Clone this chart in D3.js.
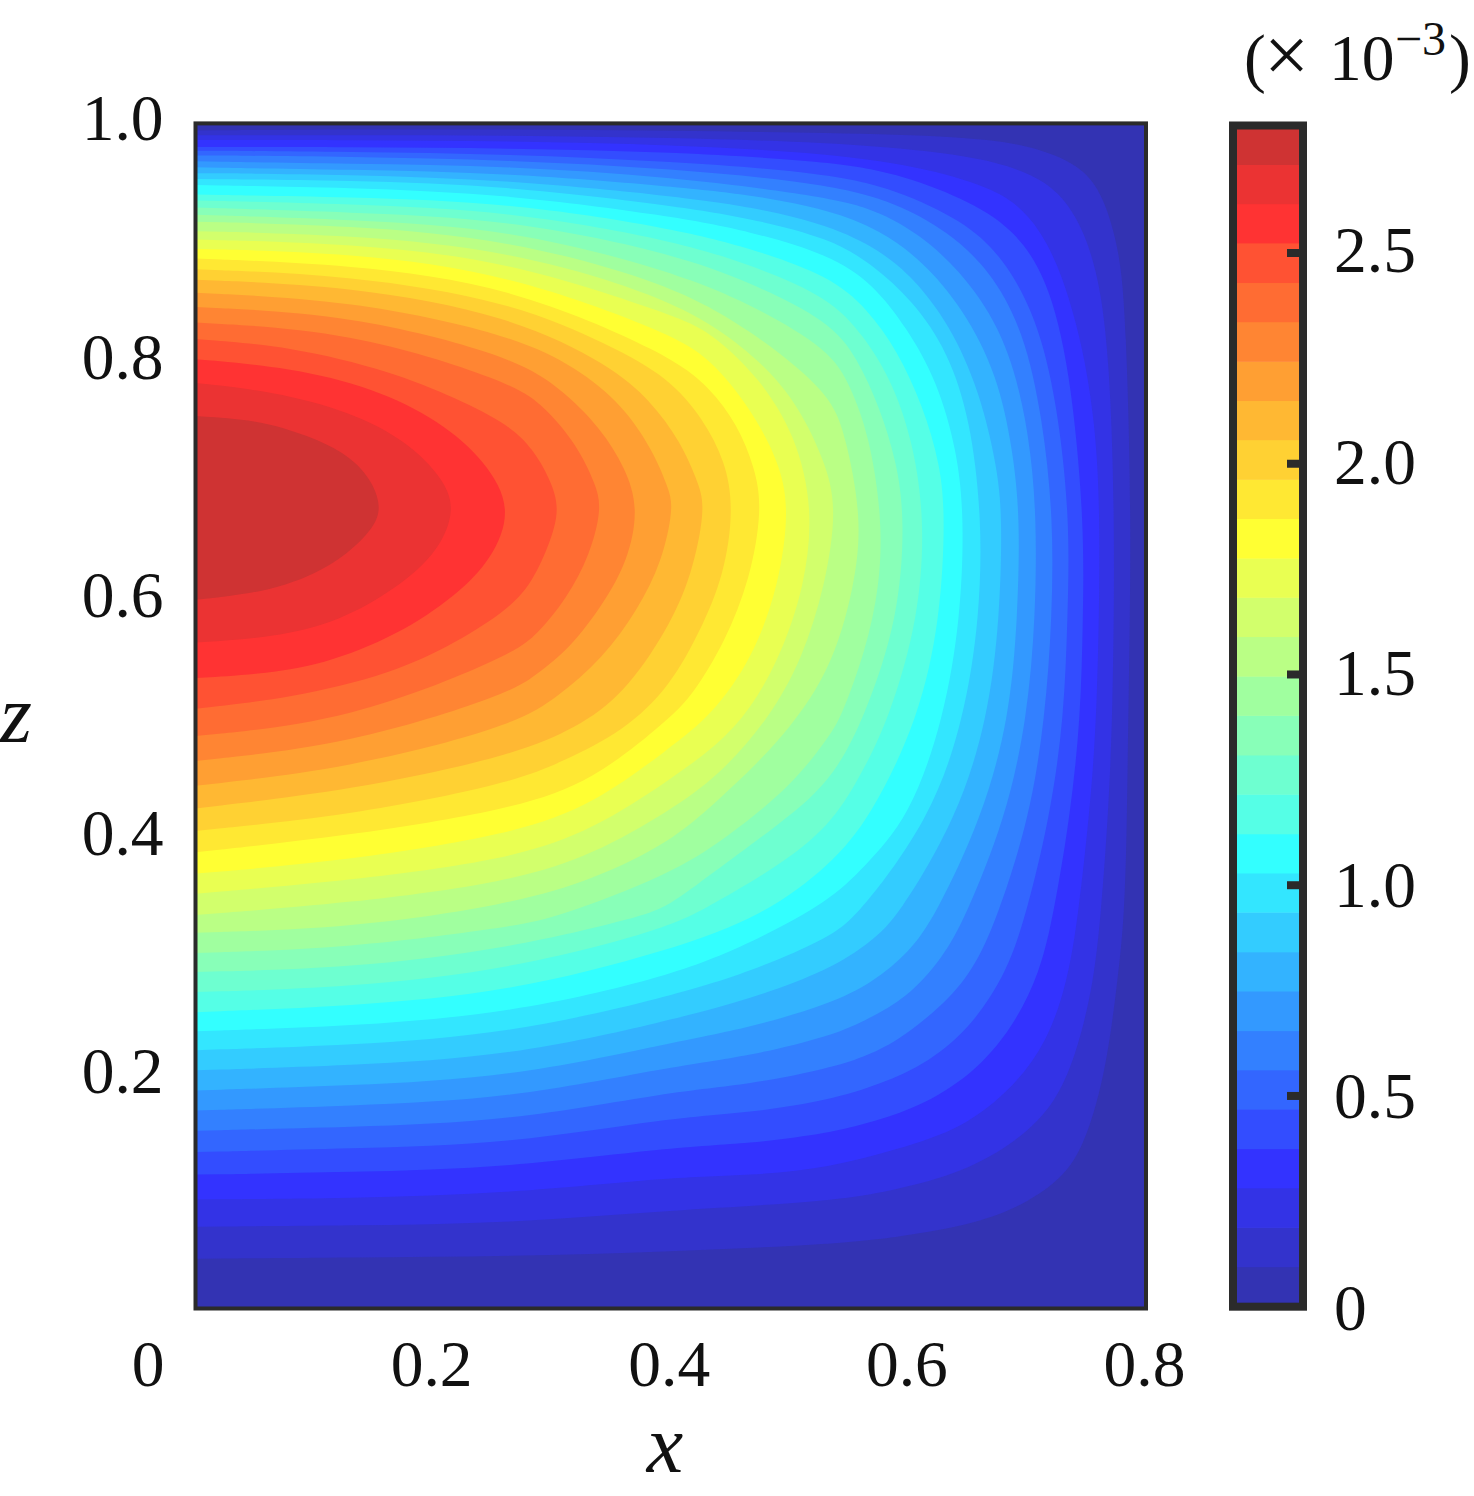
<!DOCTYPE html>
<html><head><meta charset="utf-8">
<style>html,body{margin:0;padding:0;background:#fff}svg{display:block}text{font-family:"Liberation Serif","Times New Roman",serif;fill:#111}</style>
<script src="https://cdn.jsdelivr.net/npm/d3@7/dist/d3.min.js"></script>
</head><body><svg id="c" width="1474" height="1496"></svg>
<script>
// level boundaries (x 10^-3)
const levels=[0,.095,.188,.282,.375,.469,.562,.655,.749,.842,.936,1.029,1.122,1.216,1.309,1.403,1.496,1.59,1.683,1.776,1.87,1.963,2.057,2.15,2.243,2.337,2.43,2.524,2.617,2.71,2.8];
const bandColors=["#3333B3","#3333CC","#3333E6","#3333FF","#334DFF","#3366FF","#3380FF","#3399FF","#33B3FF","#33CCFF","#33E6FF","#33FFFF","#55FFE6","#6EFFD0","#88FFB8","#A0FF9F","#BAFF85","#D2FF6C","#E9FF52","#FFFF33","#FFE833","#FFD133","#FFB833","#FF9F33","#FF8533","#FF6C33","#FF5233","#FF3333","#EB3333","#CF3333"];
const xTicks=[0,.2,.4,.6,.8];
const zTicks=[.2,.4,.6,.8,1];
const cbTicks=[0,.5,1,1.5,2,2.5];
// iso-contours [x,z], one per level boundary
const contour01=[[0,.994],[.13,.995],[.265,.995],[.399,.994],[.534,.992],[.646,.989],[.702,.982],[.745,.965],[.764,.94],[.778,.892],[.783,.836],[.788,.667],[.785,.498],[.784,.414],[.782,.332],[.776,.276],[.767,.206],[.753,.152],[.736,.115],[.702,.09],[.66,.072],[.591,.06],[.534,.054],[.399,.048],[.265,.044],[.13,.043],[0,.042]];
const contour02=[[0,.99],[.13,.99],[.265,.99],[.399,.988],[.534,.984],[.618,.977],[.675,.968],[.717,.952],[.742,.923],[.759,.878],[.769,.808],[.774,.667],[.772,.498],[.768,.414],[.762,.332],[.756,.276],[.743,.22],[.725,.174],[.692,.141],[.646,.115],[.59,.1],[.534,.09],[.399,.083],[.265,.072],[.13,.07],[0,.069]];
const contour03=[[0,.986],[.13,.986],[.265,.985],[.399,.982],[.534,.975],[.618,.962],[.675,.944],[.702,.923],[.725,.886],[.745,.821],[.757,.751],[.762,.667],[.759,.498],[.752,.414],[.743,.332],[.734,.276],[.717,.225],[.688,.186],[.646,.152],[.59,.134],[.534,.119],[.467,.112],[.399,.111],[.265,.097],[.13,.093],[0,.092]];
const contour04=[[0,.98],[.13,.98],[.265,.979],[.399,.976],[.534,.968],[.59,.958],[.646,.937],[.688,.912],[.717,.87],[.736,.794],[.748,.667],[.747,.583],[.745,.498],[.736,.414],[.722,.332],[.711,.284],[.688,.237],[.654,.197],[.607,.169],[.568,.157],[.534,.148],[.467,.139],[.399,.136],[.265,.119],[.13,.115],[0,.113]];
const contour05=[[0,.977],[.13,.976],[.265,.974],[.399,.968],[.534,.958],[.59,.944],[.646,.918],[.68,.887],[.708,.836],[.725,.766],[.736,.667],[.734,.583],[.731,.498],[.719,.414],[.699,.332],[.683,.284],[.654,.239],[.618,.208],[.576,.189],[.534,.176],[.467,.165],[.399,.161],[.265,.139],[.13,.135],[0,.132]];
const contour06=[[0,.973],[.13,.972],[.265,.969],[.399,.962],[.534,.949],[.59,.933],[.633,.909],[.669,.876],[.697,.825],[.713,.751],[.722,.667],[.721,.583],[.715,.498],[.702,.414],[.675,.33],[.654,.284],[.627,.254],[.59,.225],[.562,.212],[.534,.203],[.467,.189],[.399,.183],[.265,.158],[.13,.153],[0,.15]];
const contour07=[[0,.968],[.13,.966],[.265,.964],[.399,.955],[.534,.938],[.576,.926],[.618,.901],[.658,.859],[.686,.808],[.702,.737],[.708,.667],[.707,.583],[.7,.498],[.682,.414],[.648,.33],[.629,.296],[.599,.262],[.562,.242],[.534,.23],[.467,.213],[.399,.204],[.265,.177],[.13,.171],[0,.167]];
const contour08=[[0,.963],[.13,.961],[.265,.958],[.399,.947],[.467,.94],[.534,.927],[.576,.91],[.612,.884],[.646,.844],[.675,.788],[.688,.724],[.694,.667],[.692,.583],[.685,.498],[.662,.414],[.622,.33],[.601,.301],[.57,.275],[.534,.257],[.467,.237],[.399,.224],[.265,.195],[.13,.188],[0,.184]];
const contour09=[[0,.958],[.13,.957],[.265,.952],[.399,.939],[.467,.93],[.534,.914],[.576,.893],[.604,.87],[.635,.83],[.66,.774],[.675,.709],[.679,.667],[.677,.583],[.667,.498],[.641,.414],[.591,.33],[.568,.309],[.534,.286],[.467,.261],[.399,.243],[.265,.213],[.13,.205],[0,.201]];
const contour10=[[0,.953],[.13,.952],[.265,.947],[.399,.931],[.467,.92],[.534,.903],[.57,.881],[.604,.85],[.633,.808],[.652,.751],[.662,.667],[.66,.583],[.647,.498],[.619,.414],[.558,.332],[.534,.313],[.467,.284],[.399,.263],[.265,.232],[.13,.222],[0,.218]];
const contour11=[[0,.948],[.13,.946],[.265,.94],[.399,.922],[.467,.909],[.534,.889],[.57,.865],[.599,.827],[.624,.783],[.641,.724],[.647,.667],[.644,.583],[.63,.498],[.601,.414],[.562,.372],[.534,.344],[.467,.308],[.399,.28],[.265,.249],[.13,.238],[0,.234]];
const contour12=[[0,.94],[.13,.938],[.265,.933],[.399,.912],[.467,.895],[.534,.871],[.565,.844],[.591,.808],[.612,.762],[.627,.712],[.631,.667],[.627,.583],[.609,.498],[.568,.414],[.534,.374],[.479,.332],[.399,.302],[.265,.267],[.13,.255],[0,.25]];
const contour13=[[0,.935],[.13,.932],[.265,.926],[.399,.902],[.467,.881],[.534,.853],[.562,.821],[.585,.785],[.603,.735],[.614,.667],[.609,.583],[.584,.498],[.559,.448],[.534,.407],[.489,.372],[.433,.34],[.399,.321],[.265,.286],[.13,.271],[0,.267]];
const contour14=[[0,.929],[.13,.925],[.265,.919],[.399,.891],[.467,.866],[.534,.833],[.557,.802],[.576,.76],[.59,.715],[.597,.667],[.592,.583],[.563,.498],[.534,.443],[.489,.407],[.433,.366],[.399,.34],[.373,.33],[.265,.304],[.13,.287],[0,.284]];
const contour15=[[0,.923],[.13,.919],[.265,.911],[.399,.876],[.467,.848],[.534,.809],[.551,.779],[.567,.737],[.578,.667],[.576,.61],[.564,.555],[.543,.498],[.534,.484],[.503,.442],[.447,.397],[.399,.366],[.304,.33],[.265,.322],[.13,.304],[0,.3]];
const contour16=[[0,.917],[.13,.914],[.265,.902],[.399,.865],[.467,.826],[.534,.773],[.547,.737],[.561,.667],[.555,.61],[.534,.535],[.489,.475],[.439,.428],[.399,.393],[.335,.362],[.265,.341],[.13,.321],[0,.317]];
const contour17=[[0,.909],[.13,.906],[.265,.893],[.399,.853],[.461,.813],[.503,.771],[.53,.715],[.54,.675],[.53,.61],[.511,.549],[.483,.498],[.441,.45],[.399,.42],[.335,.383],[.265,.36],[.13,.342],[0,.332]];
const contour18=[[0,.902],[.13,.899],[.265,.884],[.399,.839],[.433,.825],[.475,.785],[.505,.737],[.52,.675],[.513,.61],[.491,.546],[.456,.487],[.399,.446],[.335,.404],[.265,.379],[.13,.361],[0,.35]];
const contour19=[[0,.894],[.13,.891],[.265,.873],[.399,.823],[.433,.802],[.467,.76],[.491,.715],[.5,.675],[.491,.61],[.469,.549],[.435,.501],[.399,.473],[.335,.425],[.265,.4],[.13,.378],[0,.367]];
const contour20=[[0,.886],[.13,.881],[.265,.863],[.399,.805],[.433,.777],[.456,.746],[.471,.709],[.477,.675],[.467,.616],[.446,.563],[.418,.517],[.399,.498],[.335,.445],[.265,.421],[.13,.399],[0,.385]];
const contour21=[[0,.877],[.13,.872],[.265,.85],[.349,.813],[.399,.785],[.427,.751],[.446,.715],[.453,.675],[.445,.619],[.425,.572],[.399,.524],[.36,.487],[.31,.462],[.265,.443],[.13,.416],[0,.403]];
const contour22=[[0,.868],[.13,.863],[.265,.838],[.349,.796],[.383,.766],[.408,.732],[.424,.695],[.429,.675],[.418,.619],[.397,.572],[.36,.518],[.321,.49],[.265,.466],[.13,.437],[0,.422]];
const contour23=[[0,.857],[.13,.851],[.265,.822],[.321,.794],[.36,.762],[.385,.724],[.399,.69],[.402,.675],[.393,.631],[.372,.589],[.343,.549],[.304,.515],[.265,.491],[.13,.456],[0,.441]];
const contour24=[[0,.845],[.13,.839],[.265,.804],[.307,.777],[.341,.743],[.362,.709],[.373,.675],[.364,.631],[.343,.594],[.315,.557],[.287,.535],[.265,.519],[.13,.476],[0,.462]];
const contour25=[[0,.832],[.13,.825],[.265,.782],[.293,.762],[.321,.729],[.337,.695],[.342,.675],[.332,.636],[.313,.6],[.287,.568],[.265,.551],[.13,.496],[0,.483]];
const contour26=[[0,.818],[.08,.812],[.164,.791],[.22,.768],[.265,.745],[.284,.725],[.298,.701],[.307,.675],[.298,.645],[.284,.614],[.265,.591],[.22,.562],[.164,.535],[.08,.515],[0,.506]];
const contour27=[[0,.801],[.08,.794],[.149,.777],[.206,.749],[.244,.715],[.267,.675],[.25,.633],[.22,.602],[.17,.568],[.107,.543],[.052,.535],[0,.532]];
const contour28=[[0,.781],[.065,.774],[.13,.757],[.178,.732],[.208,.701],[.219,.675],[.205,.639],[.17,.608],[.122,.58],[.065,.566],[0,.562]];
const contour29=[[0,.753],[.052,.75],[.094,.737],[.13,.72],[.149,.698],[.158,.672],[.143,.65],[.113,.625],[.065,.605],[0,.598]];
const contours=[contour01,contour02,contour03,contour04,contour05,contour06,contour07,contour08,contour09,contour10,contour11,contour12,contour13,contour14,contour15,contour16,contour17,contour18,contour19,contour20,contour21,contour22,contour23,contour24,contour25,contour26,contour27,contour28,contour29];

const svg=d3.select("#c");
const x=d3.scaleLinear().domain([0,.8]).range([195.5,1146]);
const z=d3.scaleLinear().domain([0,1]).range([1308.5,123.4]);
const cb=d3.scaleLinear().domain([0,2.5]).range([1306.7,253]);
const FS=65.5, LABEL=82, DARK="#2b2b2b";

svg.append("clipPath").attr("id","plot").append("rect")
  .attr("x",x(0)).attr("y",z(1)).attr("width",x(.8)-x(0)).attr("height",z(0)-z(1));
const field=svg.append("g").attr("clip-path","url(#plot)");
field.append("rect").attr("x",x(0)).attr("y",z(1)).attr("width",x(.8)-x(0)).attr("height",z(0)-z(1)).attr("fill",bandColors[0]);
const line=d3.line().x(d=>x(d[0])).y(d=>z(d[1])).curve(d3.curveBasis);
field.selectAll("path").data(contours).join("path")
  .attr("d",d=>line(d)+"Z").attr("fill",(d,i)=>bandColors[i+1]);
svg.append("rect").attr("x",x(0)).attr("y",z(1)).attr("width",x(.8)-x(0)).attr("height",z(0)-z(1))
  .attr("fill","none").attr("stroke",DARK).attr("stroke-width",4);

// axes: labels only, no tick marks
const fmt=d=>d===0?"0":d.toFixed(1);
const ax=svg.append("g").attr("transform","translate(0,1386)")
  .call(d3.axisBottom(x).tickValues(xTicks).tickSize(0).tickPadding(0).tickFormat(fmt));
ax.select(".domain").remove();
ax.selectAll("text").attr("y",0).attr("dy",0).attr("dx",d=>d===0?-48:-2)
  .attr("font-size",FS).attr("font-family",null).attr("fill","#111");
const ay=svg.append("g").attr("transform","translate(163.5,0)")
  .call(d3.axisLeft(z).tickValues(zTicks).tickSize(0).tickPadding(0).tickFormat(fmt));
ay.select(".domain").remove();
ay.selectAll("text").attr("x",0).attr("dy",0).attr("y",d=>16.5+(1-d)*6.25)
  .attr("font-size",FS).attr("font-family",null).attr("fill","#111");

svg.append("text").attr("x",665).attr("y",1472).attr("text-anchor","middle").attr("font-size",LABEL).attr("font-style","italic").text("x");
svg.append("text").attr("x",16).attr("y",742).attr("text-anchor","middle").attr("font-size",LABEL).attr("font-style","italic").text("z");

// colour bar
const barX=1233,barW=70;
const barTop=125.5;
svg.append("g").selectAll("rect").data(bandColors).join("rect")
  .attr("x",barX).attr("width",barW)
  .attr("y",(d,i)=>cb(levels[i+1]))
  .attr("height",(d,i)=>cb(levels[i])-cb(levels[i+1])+.5)
  .attr("fill",d=>d);
svg.append("g").selectAll("line").data(cbTicks.filter(d=>d>0)).join("line")
  .attr("x1",1287).attr("x2",1300).attr("y1",d=>cb(d)).attr("y2",d=>cb(d))
  .attr("stroke",DARK).attr("stroke-width",8);
svg.append("rect").attr("x",barX).attr("y",barTop).attr("width",barW).attr("height",cb(0)-barTop)
  .attr("fill","none").attr("stroke",DARK).attr("stroke-width",8);
const ac=svg.append("g").attr("transform","translate(1334,0)")
  .call(d3.axisRight(cb).tickValues(cbTicks).tickSize(0).tickPadding(0).tickFormat(fmt));
ac.select(".domain").remove();
ac.selectAll("text").attr("x",0).attr("dy",0).attr("y",d=>d===0?23:(d===2.5?18:20+(2-d)))
  .attr("font-size",FS).attr("font-family",null).attr("fill","#111");

// colour-bar unit
const unit=svg.append("g");
unit.append("text").attr("x",1244).attr("y",80).attr("font-size",FS).text("(");
unit.append("text").attr("x",1264).attr("y",82).attr("font-size",80).text("\u00D7");
unit.append("text").attr("x",1329).attr("y",80).attr("font-size",FS).text("10");
unit.append("text").attr("x",1395).attr("y",55).attr("font-size",48).text("\u22123");
unit.append("text").attr("x",1449).attr("y",80).attr("font-size",FS).text(")");
</script></body></html>
